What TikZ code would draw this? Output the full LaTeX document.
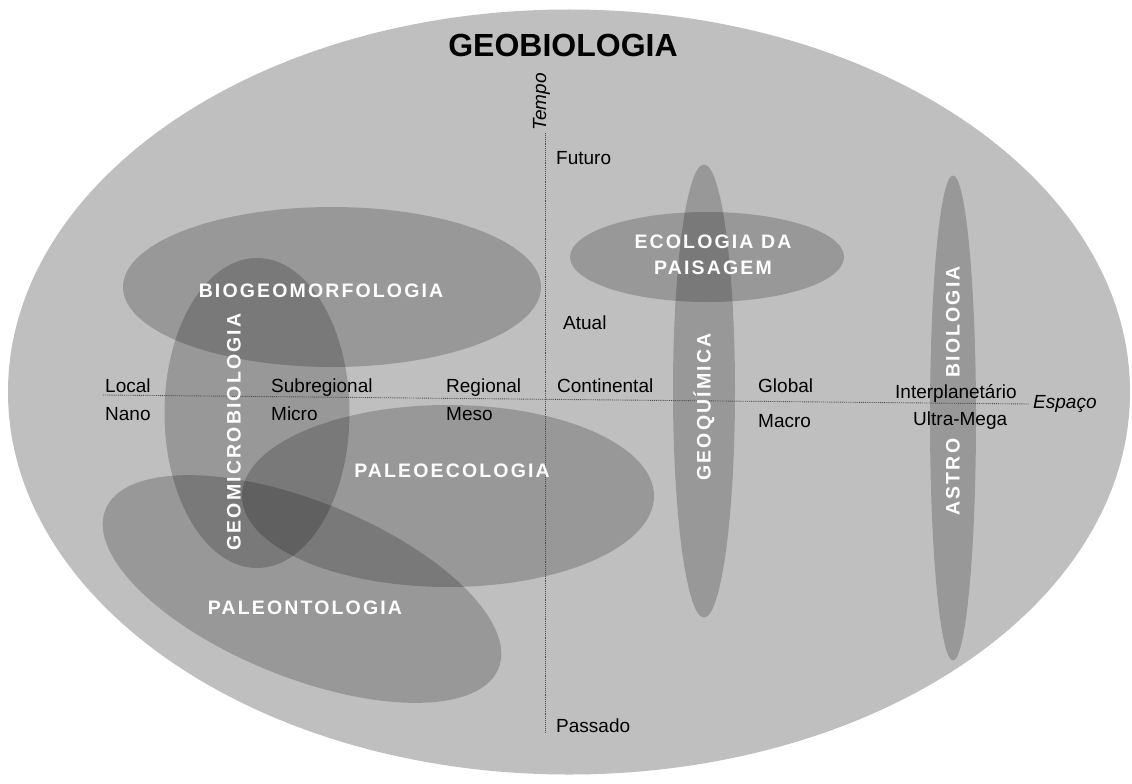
\documentclass[tikz,border=0pt]{standalone}
\usepackage{fontspec}
\setmainfont{Liberation Sans}
\usetikzlibrary{shapes.geometric}
\definecolor{outergray}{gray}{0.75}
\begin{document}
\begin{tikzpicture}[x=1pt,y=-1pt,
  blob/.style={ellipse, fill=black, fill opacity=0.2, draw=none, inner sep=0pt},
  big/.style={text=white, font=\fontsize{19.5}{21}\selectfont\bfseries\addfontfeature{LetterSpace=11}, inner sep=0pt, align=center},
  lab/.style={font=\fontsize{19}{20}\selectfont, inner sep=0pt, anchor=base west, text=black},
  axisline/.style={densely dotted, line width=0.9pt, draw=black!70}]
\useasboundingbox (0,0) rectangle (1132,784);
\fill[white] (0,0) rectangle (1132,784);
% outer ellipse
\node[ellipse, fill=outergray, draw=none, minimum width=1122pt, minimum height=765pt, inner sep=0pt] (geo) at (569,392) {};
% sub-field ellipses
\node[blob, minimum width=418pt, minimum height=160pt] (biogeo) at (332,287) {};
\node[blob, minimum width=185pt, minimum height=310pt] (geomicro) at (257,413) {};
\node[blob, minimum width=412pt, minimum height=182pt] (paleoeco) at (448,496) {};
\node[blob, minimum width=424pt, minimum height=176pt, rotate=-22] (paleonto) at (302,589) {};
\node[blob, minimum width=274pt, minimum height=90pt] (ecopais) at (707,257) {};
\node[blob, minimum width=62pt, minimum height=453pt] (geoquim) at (704,391) {};
\node[blob, minimum width=46pt, minimum height=485pt] (astro) at (953,418) {};
% axes
\coordinate (hL) at (103,395);
\coordinate (hR) at (1030,404);
\coordinate (vT) at (545,133);
\coordinate (vB) at (545,733);
\draw[axisline] (hL) -- (hR);
\draw[axisline] (vT) -- (vB);
% title
\node[font=\fontsize{32}{34}\selectfont\bfseries, inner sep=0pt] (title) at (563,45) {GEOBIOLOGIA};
\node[font=\fontsize{19}{20}\selectfont\itshape, rotate=90, anchor=base, inner sep=0pt] (tempo) at (546,102) {Tempo};
\node[font=\fontsize{19}{20}\selectfont\itshape, anchor=base west, inner sep=0pt] (espaco) at (1033,408) {Espaço};
% axis labels
\node[lab] (local) at (105,392) {Local};
\node[lab] (nano) at (105,420) {Nano};
\node[lab] (subreg) at (271,392) {Subregional};
\node[lab] (micro) at (271,420) {Micro};
\node[lab] (regional) at (446,392) {Regional};
\node[lab] (meso) at (446,420) {Meso};
\node[lab] (contin) at (557,392) {Continental};
\node[lab] (global) at (758,392) {Global};
\node[lab] (macro) at (758,427) {Macro};
\node[lab] (interp) at (895,398) {Interplanetário};
\node[lab] (ultra) at (913,425) {Ultra-Mega};
\node[lab] (futuro) at (556,164) {Futuro};
\node[lab] (atual) at (563,329) {Atual};
\node[lab] (passado) at (556,732) {Passado};
% field labels
\node[big] (tbiogeo) at (321,291) {BIOGEOMORFOLOGIA};
\node[big] (tecopais) at (713,255) {ECOLOGIA DA\\[5pt]PAISAGEM};
\node[big] (tpaleoeco) at (452,471) {PALEOECOLOGIA};
\node[big] (tpaleonto) at (305,608) {PALEONTOLOGIA};
\node[big, rotate=90] (tgeomicro) at (234,432) {GEOMICROBIOLOGIA};
\node[big, rotate=90] (tgeoquim) at (704,407) {GEOQUÍMICA};
\node[big, rotate=90] (tbiol) at (953,322) {BIOLOGIA};
\node[big, rotate=90] (tastro) at (953,477) {ASTRO};
\end{tikzpicture}
\end{document}
